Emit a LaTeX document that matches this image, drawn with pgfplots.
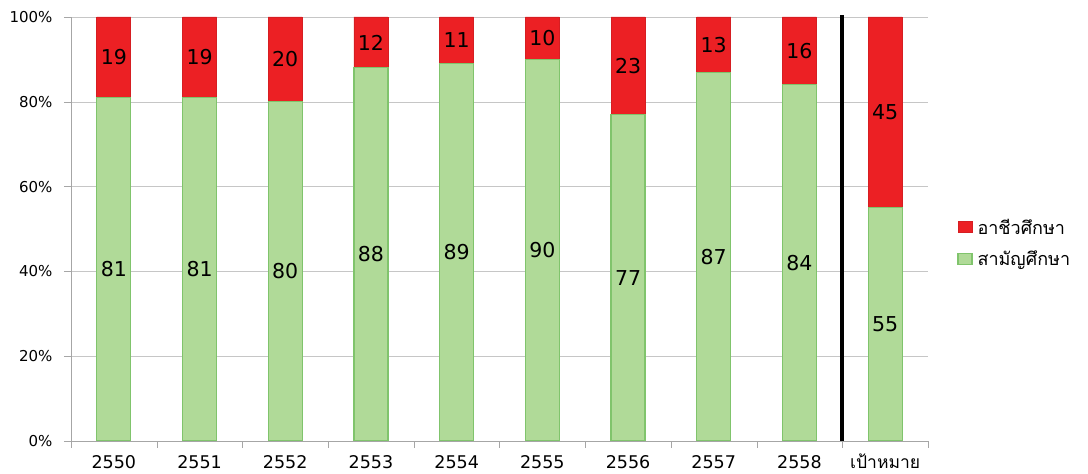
\documentclass[border=0pt]{standalone}
\usepackage{pgfplots}
\pgfplotsset{compat=1.18}
\usepackage{fontspec}
\setmainfont{DejaVu Sans}
\newfontfamily\thaifont[Script=Thai]{Loma}
\definecolor{gmid}{RGB}{176,218,152}
\definecolor{gedge}{RGB}{128,196,108}
\definecolor{rmid}{RGB}{236,32,36}
\definecolor{redge}{RGB}{214,30,34}
\begin{document}
\begin{tikzpicture}
\begin{axis}[
  scale only axis,
  width=857pt, height=424pt,
  ybar stacked,
  bar width=34pt,
  xmin=-0.5, xmax=9.5,
  ymin=0, ymax=100,
  axis x line*=bottom,
  axis y line*=left,
  axis line style={gray!70},
  xtick={0,...,9},
  xticklabels={2550,2551,2552,2553,2554,2555,2556,2557,2558,{\thaifont เป้าหมาย}},
  minor xtick={-0.5,0.5,...,9.5},
  major x tick style={draw=none},
  minor x tick style={draw=gray!70},
  minor tick length=7pt,
  ytick={0,20,...,100},
  yticklabel={\pgfmathprintnumber{\tick}\%},
  y tick style={draw=gray!70},
  major tick length=7pt,
  tick align=outside,
  ymajorgrids,
  grid style={gray!45},
  /pgf/number format/assume math mode=true,
  x tick label style={font=\fontsize{17.5}{19}\selectfont, anchor=base, yshift=-20pt, text depth=0pt, inner sep=0pt},
  y tick label style={font=\fontsize{15}{17}\selectfont, xshift=-8pt},
  reverse legend,
  legend style={at={(1.034,0.467)}, anchor=west, draw=none, fill=none, font=\thaifont\fontsize{18}{20}\selectfont, row sep=11pt, inner sep=0pt},
  legend cell align=left,
  legend image code/.code={\fill[#1] (0pt,-5.5pt) rectangle (14pt,5.5pt);},
]
\addplot[draw=gedge, line width=1.2pt, fill=gmid] coordinates {
(0,81) (1,81) (2,80) (3,88) (4,89) (5,90) (6,77) (7,87) (8,84) (9,55)};
\addlegendentry{\hspace{3pt}สามัญศึกษา}
\addplot[draw=redge, line width=0.8pt, fill=rmid] coordinates {
(0,19) (1,19) (2,20) (3,12) (4,11) (5,10) (6,23) (7,13) (8,16) (9,45)};
\addlegendentry{\hspace{3pt}อาชีวศึกษา}
\end{axis}
\begin{axis}[
  scale only axis,
  width=857pt, height=424pt,
  xmin=-0.5, xmax=9.5,
  ymin=0, ymax=100,
  hide axis, clip=false,
]
\addplot[black, line width=4pt] coordinates {(8.5,0) (8.5,100.5)};
\addplot[only marks, mark=none, point meta=explicit symbolic,
  nodes near coords={\pgfplotspointmeta},
  every node near coord/.append style={anchor=center, font=\fontsize{20.5}{22}\selectfont, text=black}]
table[meta=lab] {
x y lab
0 40.5 81
1 40.5 81
2 40 80
3 44 88
4 44.5 89
5 45 90
6 38.5 77
7 43.5 87
8 42 84
9 27.5 55
0 90.5 19
1 90.5 19
2 90 20
3 94 12
4 94.5 11
5 95 10
6 88.5 23
7 93.5 13
8 92 16
9 77.5 45
};
\end{axis}
\path (-71pt,-33pt) rectangle ++(1088pt,474pt);
\end{tikzpicture}
\end{document}
